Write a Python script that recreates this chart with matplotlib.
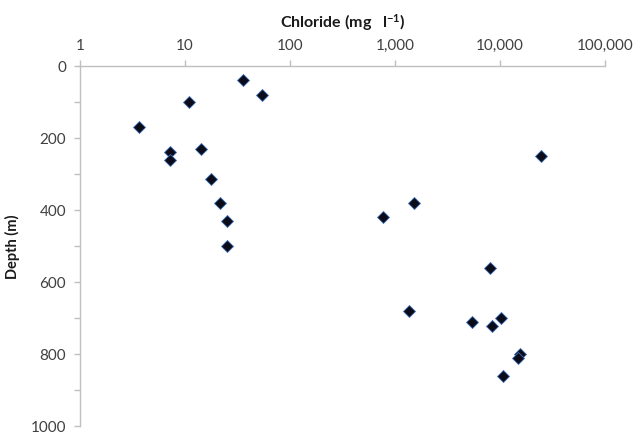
import matplotlib
matplotlib.use('Agg')
import matplotlib.pyplot as plt
from matplotlib.ticker import FixedLocator, FuncFormatter

# chloride (mg/l) against depth (m)
chloride = [35.7, 54, 10.9, 3.65, 7.2, 7.2, 14.2, 17.7, 21.5, 25.1, 25.1,
            24600, 769, 1517, 8030, 1360, 5410, 8390, 10230, 15500, 14840, 10690]
depth = [39, 80, 100, 169, 240, 261, 230, 314, 380, 430, 500,
         250, 419, 380, 561, 681, 710, 721, 700, 800, 811, 861]

x_ticks = [1, 10, 100, 1000, 10000, 100000]
y_major = [0, 200, 400, 600, 800, 1000]
y_minor = [100, 300, 500, 700, 900]

plt.rcParams['font.family'] = ['Lato', 'DejaVu Sans']
plt.rcParams['mathtext.default'] = 'regular'

fig = plt.figure(figsize=(6.36, 4.35), dpi=100)
ax = fig.add_axes([80 / 636, 1 - 427 / 435, 525 / 636, 360 / 435])

ax.plot(chloride, depth, linestyle='none', marker='D', markersize=6,
        markerfacecolor='#0b0b1a', markeredgecolor='#3d6fb5', markeredgewidth=0.6)

ax.set_xscale('log')
ax.set_xlim(1, 100000)
ax.set_ylim(1000, 0)

ax.xaxis.set_major_locator(FixedLocator(x_ticks))
ax.xaxis.set_minor_locator(FixedLocator([]))
ax.xaxis.set_major_formatter(FuncFormatter(lambda v, p: f'{int(round(v)):,}'))
ax.xaxis.tick_top()
ax.xaxis.set_label_position('top')

ax.yaxis.set_major_locator(FixedLocator(y_major))
ax.yaxis.set_minor_locator(FixedLocator(y_minor))

grey = '#bfbfbf'
for side in ['right', 'bottom']:
    ax.spines[side].set_visible(False)
for side in ['top', 'left']:
    ax.spines[side].set_color(grey)
    ax.spines[side].set_linewidth(1.0)

ax.tick_params(axis='both', which='both', direction='out', length=4, width=1,
               color=grey, labelsize=11, labelcolor='#404040', pad=6)

ax.set_xlabel('Chloride (mg   l$^{-1}$)', fontsize=11.5, fontweight='bold',
              color='#1a1a1a', labelpad=8)
ax.set_ylabel('Depth (m)', fontsize=10.5, fontweight='bold', color='#1a1a1a', labelpad=8)

fig.savefig('out.png', dpi=100)
